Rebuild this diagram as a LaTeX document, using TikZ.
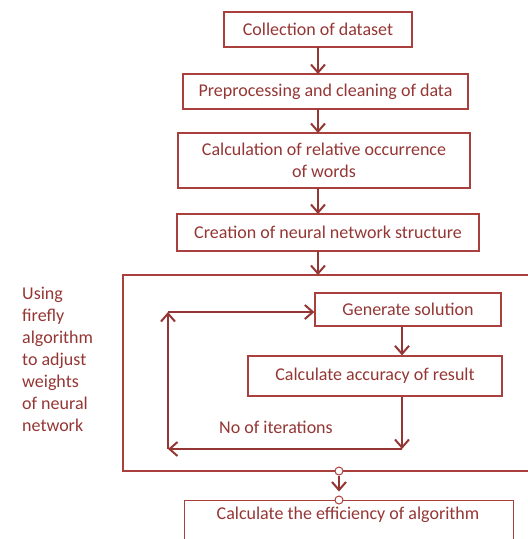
\documentclass[tikz,border=0pt]{standalone}
\usepackage{fontspec}
\setmainfont{Carlito}
\usetikzlibrary{arrows.meta}
\definecolor{dred}{HTML}{943634}
\definecolor{bred}{HTML}{A9403D}
\begin{document}
\begin{tikzpicture}[x=1pt,y=-1pt,
  box/.style={draw=bred,line width=1.3pt,text=dred,font=\fontsize{18}{22}\selectfont,inner sep=0pt,align=center},
  conn/.style={draw=dred,line width=2.2pt,-{Straight Barb[length=8pt,width=14pt,line width=2pt]}},
  lbl/.style={text=dred,font=\fontsize{18}{22}\selectfont,inner sep=0pt}]
\useasboundingbox (0,0) rectangle (528,539);
\node[box,minimum width=188pt,minimum height=35pt] (b1) at (318,29.5) {Collection of dataset};
\node[box,minimum width=285pt,minimum height=35pt] (b2) at (325.5,91.5) {Preprocessing and cleaning of data};
\node[box,minimum width=292pt,minimum height=55pt] (b3) at (324,160.5) {Calculation of relative occurrence\\of words};
\node[box,minimum width=302pt,minimum height=37pt] (b4) at (328,232.5) {Creation of neural network structure};
\draw[draw=bred,line width=1.3pt] (530,275) -- (123,275) -- (123,471) -- (530,471);
\coordinate (bigtop) at (318,275);
\node[box,minimum width=186pt,minimum height=33pt] (g) at (408,309.5) {Generate solution};
\node[box,minimum width=254pt,minimum height=40pt] (c) at (375,376) {Calculate accuracy of result};
\node[box,minimum width=329pt,minimum height=60pt,anchor=north west] (e) at (184,500) {};
\node[lbl] (et) at (348,515) {Calculate the efficiency of algorithm};
\coordinate (r1) at (402,449);
\coordinate (l1) at (168,449);
\coordinate (l2) at (168,312);
\node[lbl,anchor=west] (noit) at (219,427) {No of iterations};
\node[lbl,anchor=north west,align=left,font=\fontsize{18}{22}\selectfont] (side) at (22,287) {Using\\firefly\\algorithm\\to adjust\\weights\\of neural\\network};
\draw[conn] (318,47) -- (318,74);
\draw[conn] (318,109) -- (318,133);
\draw[conn] (318,188) -- (318,214);
\draw[conn] (318,251) -- (bigtop);
\draw[conn] (g.south -| 402,0) -- (c.north -| 402,0);
\draw[conn] (c.south -| 402,0) -- (r1);
\draw[conn] (r1) -- (l1);
\draw[conn] (l1) -- (l2);
\draw[conn] (l2) -- (g.west |- l2);
\node[circle,draw=bred,fill=white,line width=1pt,minimum size=8pt,inner sep=0pt] (o1) at (339,471) {};
\node[circle,draw=bred,fill=white,line width=1pt,minimum size=8pt,inner sep=0pt] (o2) at (339,500) {};
\draw[conn,shorten >=4pt] (o1) -- (o2);
\end{tikzpicture}
\end{document}
